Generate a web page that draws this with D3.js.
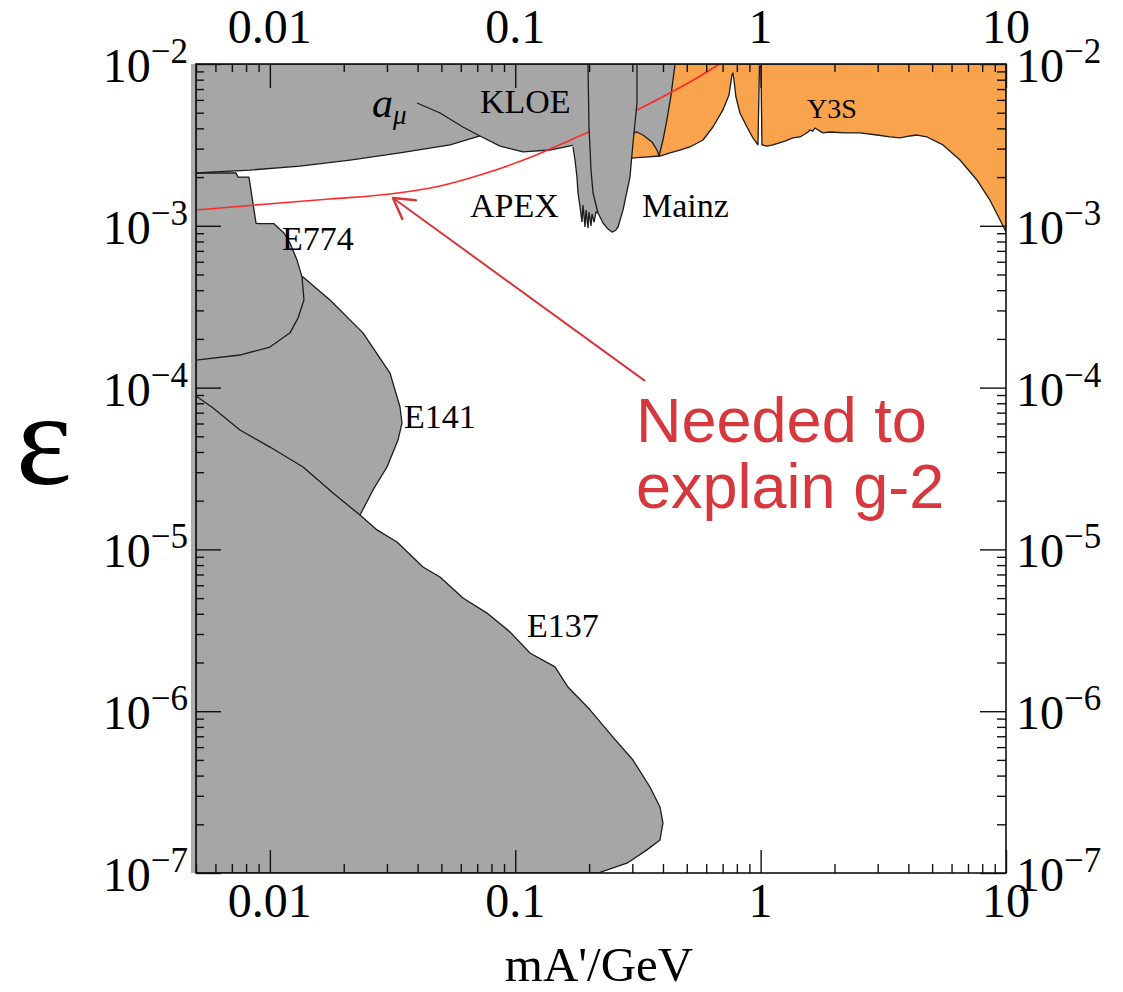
<!DOCTYPE html>
<html>
<head>
<meta charset="utf-8">
<script src="https://cdn.jsdelivr.net/npm/d3@7"></script>
<style>
  html, body { margin: 0; padding: 0; background: #fff; }
  svg { display: block; }
</style>
</head>
<body>
<svg id="chart" width="1123" height="992"></svg>
<script>
// Axis ranges: dark-photon mass (GeV) and kinetic mixing epsilon
const massDomain = [0.005, 10];
const epsDomain = [1e-7, 1e-2];
const massTickLabels = ["0.01", "0.1", "1", "10"];
const massTickValues = [0.01, 0.1, 1, 10];
const epsTickExponents = [-2, -3, -4, -5, -6, -7];

// Excluded regions, each a closed contour of [mass (GeV), epsilon]
const e141 = [
  [0.005, 3.48e-4], [0.01365, 4.83e-4], [0.01758, 3.48e-4], [0.02396, 2.18e-4],
  [0.03087, 1.23e-4], [0.03391, 7.59e-5], [0.03455, 6.04e-5], [0.03328, 4.74e-5],
  [0.03002, 3.23e-5], [0.02633, 2.33e-5], [0.02330, 1.63e-5], [0.01931, 1.88e-5],
  [0.005, 5.47e-5]
];
const e774 = [
  [0.005, 2.12e-3], [7.28e-3, 2.12e-3], [7.42e-3, 2.00e-3], [8.22e-3, 2.00e-3],
  [8.78e-3, 1.04e-3], [8.95e-3, 1.03e-3], [0.01039, 1.03e-3], [0.01142, 9.03e-4],
  [0.01208, 7.83e-4], [0.01290, 6.14e-4], [0.01352, 4.83e-4], [0.01377, 3.48e-4],
  [0.01302, 2.69e-4], [0.01208, 2.18e-4], [0.01001, 1.78e-4], [7.55e-3, 1.59e-4],
  [0.005, 1.48e-4]
];
const e137 = [
  [0.005, 8.87e-5], [5.87e-3, 7.48e-5], [7.55e-3, 5.47e-5], [0.01001, 4.29e-5],
  [0.01365, 3.23e-5], [0.01809, 2.23e-5], [0.02330, 1.63e-5], [0.02733, 1.32e-5],
  [0.03297, 1.11e-5], [0.04207, 7.78e-6], [0.04935, 6.75e-6], [0.06124, 5.01e-6],
  [0.07670, 4.04e-6], [0.09517, 3.09e-6], [0.1148, 2.29e-6], [0.1452, 1.88e-6],
  [0.1640, 1.41e-6], [0.2016, 1.02e-6], [0.2502, 6.92e-7], [0.3019, 4.99e-7],
  [0.3540, 3.40e-7], [0.3889, 2.56e-7], [0.3999, 2.04e-7], [0.3889, 1.60e-7],
  [0.3441, 1.39e-7], [0.2853, 1.15e-7], [0.2215, 1.01e-7], [0.2113, 1e-7],
  [0.005, 1e-7]
];
const y3s = [
  [0.2934, 2.62e-3], [0.3378, 2.66e-3], [0.3889, 2.70e-3], [0.4270, 2.82e-3],
  [0.4690, 2.94e-3], [0.5152, 3.07e-3], [0.5821, 3.39e-3], [0.6393, 4.08e-3],
  [0.7023, 5.20e-3], [0.7430, 6.43e-3], [0.7641, 8.55e-3], [0.7714, 8.80e-3],
  [0.7785, 7.96e-3], [0.7933, 6.25e-3], [0.8237, 4.98e-3], [0.8797, 4.08e-3],
  [0.9307, 3.49e-3], [0.9752, 3.16e-3], [0.9892, 9.72e-3], [1.0032, 9.72e-3],
  [1.0125, 3.16e-3], [1.061, 3.11e-3], [1.123, 3.16e-3], [1.256, 3.34e-3],
  [1.354, 3.49e-3], [1.447, 3.54e-3], [1.516, 3.69e-3], [1.560, 3.80e-3],
  [1.589, 3.91e-3], [1.630, 3.85e-3], [1.665, 4.02e-3], [1.745, 3.85e-3],
  [1.795, 3.75e-3], [1.917, 3.80e-3], [2.207, 3.75e-3], [2.540, 3.75e-3],
  [2.980, 3.64e-3], [3.365, 3.54e-3], [3.697, 3.49e-3], [4.059, 3.59e-3],
  [4.335, 3.64e-3], [4.763, 3.54e-3], [5.534, 3.16e-3], [6.492, 2.55e-3],
  [7.610, 1.92e-3], [8.600, 1.44e-3], [9.447, 1.09e-3], [10, 0.915e-3],
  [10, 1e-2], [0.2934, 1e-2]
];
const kloeAe = [
  [0.005, 2.12e-3], [8.30e-3, 2.21e-3], [0.01327, 2.34e-3], [0.0212, 2.55e-3],
  [0.0339, 2.82e-3], [0.0542, 3.16e-3], [0.0718, 3.59e-3], [0.0867, 3.11e-3],
  [0.1075, 2.86e-3], [0.1385, 2.94e-3], [0.175, 3.16e-3], [0.243, 3.39e-3],
  [0.313, 3.80e-3], [0.3315, 3.64e-3], [0.3607, 3.30e-3], [0.378, 2.94e-3],
  [0.3855, 2.70e-3], [0.400, 3.39e-3], [0.415, 4.51e-3], [0.4315, 6.43e-3],
  [0.448, 1e-2], [0.005, 1e-2]
];
const aMuEdge = [
  [0.0398, 5.74e-3], [0.0494, 4.98e-3], [0.0612, 4.08e-3], [0.0718, 3.59e-3]
];
const apex = [
  [0.1719, 3.39e-3], [0.1719, 3.07e-3], [0.1752, 2.55e-3], [0.1785, 2.00e-3],
  [0.1802, 1.60e-3], [0.1836, 1.31e-3], [0.1871, 1.055e-3], [0.1888, 1.345e-3],
  [0.1924, 0.983e-3], [0.1942, 1.25e-3], [0.1979, 0.969e-3], [0.1998, 1.217e-3],
  [0.2036, 0.997e-3], [0.2055, 1.183e-3], [0.2094, 1.055e-3], [0.2134, 1.217e-3],
  [0.2174, 1.20e-3], [0.2174, 3.39e-3]
];
const mainz = [
  [0.1979, 1e-2], [0.1998, 4.08e-3], [0.2036, 2.21e-3], [0.2075, 1.595e-3],
  [0.2174, 1.20e-3], [0.2279, 1.041e-3], [0.2380, 0.960e-3], [0.2480, 0.915e-3],
  [0.2560, 0.935e-3], [0.2623, 0.983e-3], [0.2749, 1.252e-3], [0.2935, 2.00e-3],
  [0.3019, 3.25e-3], [0.3134, 5.74e-3], [0.3134, 1e-2]
];
// epsilon needed to explain the muon g-2 discrepancy
const g2Band = [
  [0.005, 1.252e-3], [0.0110, 1.384e-3], [0.01758, 1.464e-3], [0.0309, 1.572e-3],
  [0.0494, 1.762e-3], [0.0718, 2.06e-3], [0.1148, 2.64e-3], [0.1752, 3.49e-3],
  [0.3134, 5.20e-3], [0.6699, 9.86e-3], [0.70, 1.03e-2]
];
const regionLabels = [
  { text: "KLOE", at: [0.0718, 4.98e-3], size: 34 },
  { text: "APEX", at: [0.0654, 1.133e-3], size: 34 },
  { text: "Mainz", at: [0.3285, 1.133e-3], size: 34 },
  { text: "Y3S", at: [1.545, 4.64e-3], size: 28 },
  { text: "E774", at: [0.01120, 7.09e-4], size: 34 },
  { text: "E141", at: [0.03520, 5.63e-5], size: 34 },
  { text: "E137", at: [0.1116, 2.87e-6], size: 34 }
];
const aMuLabelAt = [0.02608, 4.70e-3];
const noteLines = ["Needed to", "explain g-2"];
const noteAt = [0.3105, 4.61e-5];
const arrowFrom = [0.3378, 1.10e-4];
const arrowTo = [0.03175, 1.486e-3];

const svg = d3.select("#chart");
const frame = { left: 196, right: 1006, top: 64, bottom: 873 };
const x = d3.scaleLog().domain(massDomain).range([frame.left, frame.right]);
const y = d3.scaleLog().domain(epsDomain).range([frame.bottom, frame.top]);

const GRAY = "#a6a6a6", ORANGE = "#f9a34c", EDGE = "#1c1c1c";

svg.append("defs").append("clipPath").attr("id", "plotClip")
  .append("rect")
  .attr("x", frame.left).attr("y", frame.top)
  .attr("width", frame.right - frame.left).attr("height", frame.bottom - frame.top);

// shaded band spilling just past the left frame
svg.append("rect")
  .attr("x", frame.left - 5).attr("y", frame.top)
  .attr("width", 5).attr("height", frame.bottom - frame.top)
  .attr("fill", "#acacac");

const plot = svg.append("g").attr("clip-path", "url(#plotClip)");
const area = d3.line().x(d => x(d[0])).y(d => y(d[1]));

function region(pts, fill) {
  plot.append("path")
    .attr("d", area(pts) + "Z")
    .attr("fill", fill)
    .attr("stroke", EDGE)
    .attr("stroke-width", 1.3)
    .attr("stroke-linejoin", "round");
}

region(e141, GRAY);
region(e774, GRAY);
region(e137, GRAY);
region(y3s, ORANGE);
region(kloeAe, GRAY);

plot.append("path")
  .attr("d", area(aMuEdge))
  .attr("fill", "none").attr("stroke", EDGE).attr("stroke-width", 1.3);

// g-2 preferred curve
plot.append("path")
  .attr("d", d3.line().x(d => x(d[0])).y(d => y(d[1])).curve(d3.curveMonotoneX)(g2Band))
  .attr("fill", "none").attr("stroke", "#ff2a2a").attr("stroke-width", 1.6);

// APEX: filled, outlined only along its lower edge
plot.append("path").attr("d", area(apex) + "Z").attr("fill", GRAY);
plot.append("path")
  .attr("d", area(apex.slice(1, -1)))
  .attr("fill", "none").attr("stroke", EDGE).attr("stroke-width", 1.3)
  .attr("stroke-linejoin", "miter");

region(mainz, GRAY);

// frame and inward ticks
const logTicks = x.ticks(40);
const isMajor = v => Math.abs(Math.log10(v) - Math.round(Math.log10(v))) < 1e-6;
const xMinor = logTicks.filter(v => !isMajor(v));
const xMajor = logTicks.filter(isMajor);
const yTicksAll = y.ticks(60);
const yMinor = yTicksAll.filter(v => !isMajor(v));
const yMajor = yTicksAll.filter(isMajor);

function addAxis(axisFn, scale, vals, size, transform) {
  const g = svg.append("g").attr("transform", transform)
    .call(axisFn(scale).tickValues(vals).tickSize(size).tickFormat(""));
  g.select(".domain").remove();
  g.selectAll(".tick line").attr("stroke", "#111").attr("stroke-width", 1.4);
}
addAxis(d3.axisBottom, x, xMajor, -23, `translate(0,${frame.bottom})`);
addAxis(d3.axisBottom, x, xMinor, -9, `translate(0,${frame.bottom})`);
addAxis(d3.axisTop, x, xMajor, -24, `translate(0,${frame.top})`);
addAxis(d3.axisTop, x, xMinor, -8, `translate(0,${frame.top})`);
addAxis(d3.axisLeft, y, yMajor, -25, `translate(${frame.left},0)`);
addAxis(d3.axisLeft, y, yMinor, -8, `translate(${frame.left},0)`);
addAxis(d3.axisRight, y, yMajor, -26, `translate(${frame.right},0)`);
addAxis(d3.axisRight, y, yMinor, -9, `translate(${frame.right},0)`);

svg.append("rect")
  .attr("x", frame.left).attr("y", frame.top)
  .attr("width", frame.right - frame.left).attr("height", frame.bottom - frame.top)
  .attr("fill", "none").attr("stroke", "#111").attr("stroke-width", 1.6);

// tick labels
const serif = "'Liberation Serif', 'Times New Roman', serif";
massTickValues.forEach((v, i) => {
  [43, 917].forEach(base => {
    svg.append("text")
      .attr("x", x(v)).attr("y", base)
      .attr("text-anchor", "middle")
      .attr("font-family", serif).attr("font-size", 48)
      .attr("fill", "#000")
      .text(massTickLabels[i]);
  });
});
epsTickExponents.forEach(p => {
  const v = Math.pow(10, p);
  [{ xp: 188, anchor: "end" }, { xp: 1016, anchor: "start" }].forEach(s => {
    const t = svg.append("text")
      .attr("x", s.xp).attr("y", y(v) + 18)
      .attr("text-anchor", s.anchor)
      .attr("font-family", serif).attr("font-size", 48)
      .attr("fill", "#000");
    t.append("tspan").text("10");
    t.append("tspan").attr("font-size", 35).attr("dy", -19).text("\u2212" + Math.abs(p));
  });
});

// axis titles
svg.append("text")
  .attr("x", 599).attr("y", 981)
  .attr("text-anchor", "middle")
  .attr("font-family", serif).attr("font-size", 49)
  .text("mA'/GeV");
svg.append("text")
  .attr("x", 44).attr("y", 484)
  .attr("text-anchor", "middle")
  .attr("font-family", serif).attr("font-size", 134)
  .text("\u03b5");

// region names
regionLabels.forEach(l => {
  svg.append("text")
    .attr("x", x(l.at[0])).attr("y", y(l.at[1]))
    .attr("font-family", serif).attr("font-size", l.size)
    .attr("fill", "#000")
    .text(l.text);
});
const amu = svg.append("text")
  .attr("x", x(aMuLabelAt[0])).attr("y", y(aMuLabelAt[1]))
  .attr("font-family", serif).attr("font-style", "italic").attr("fill", "#000");
amu.append("tspan").attr("font-size", 42).text("a");
amu.append("tspan").attr("font-size", 27).attr("dy", 7).text("\u03bc");

// annotation arrow and note
const ax0 = x(arrowFrom[0]), ay0 = y(arrowFrom[1]);
const ax1 = x(arrowTo[0]), ay1 = y(arrowTo[1]);
const ang = Math.atan2(ay0 - ay1, ax0 - ax1);
const wing = 23, spread = Math.PI / 6;
const NOTE_RED = "#d6383d";
svg.append("line")
  .attr("x1", ax0).attr("y1", ay0).attr("x2", ax1).attr("y2", ay1)
  .attr("stroke", NOTE_RED).attr("stroke-width", 2);
svg.append("path")
  .attr("d", `M${ax1 + wing * Math.cos(ang - spread)},${ay1 + wing * Math.sin(ang - spread)}` +
             `L${ax1},${ay1}` +
             `L${ax1 + wing * Math.cos(ang + spread)},${ay1 + wing * Math.sin(ang + spread)}`)
  .attr("fill", "none").attr("stroke", NOTE_RED).attr("stroke-width", 2.5)
  .attr("stroke-linecap", "round").attr("stroke-linejoin", "round");

const note = svg.append("text")
  .attr("x", x(noteAt[0])).attr("y", y(noteAt[1]))
  .attr("font-family", "'Liberation Sans', Arial, sans-serif")
  .attr("font-size", 63).attr("fill", NOTE_RED);
noteLines.forEach((line, i) => {
  note.append("tspan").attr("x", x(noteAt[0])).attr("dy", i === 0 ? 0 : 66).text(line);
});
</script>
</body>
</html>
